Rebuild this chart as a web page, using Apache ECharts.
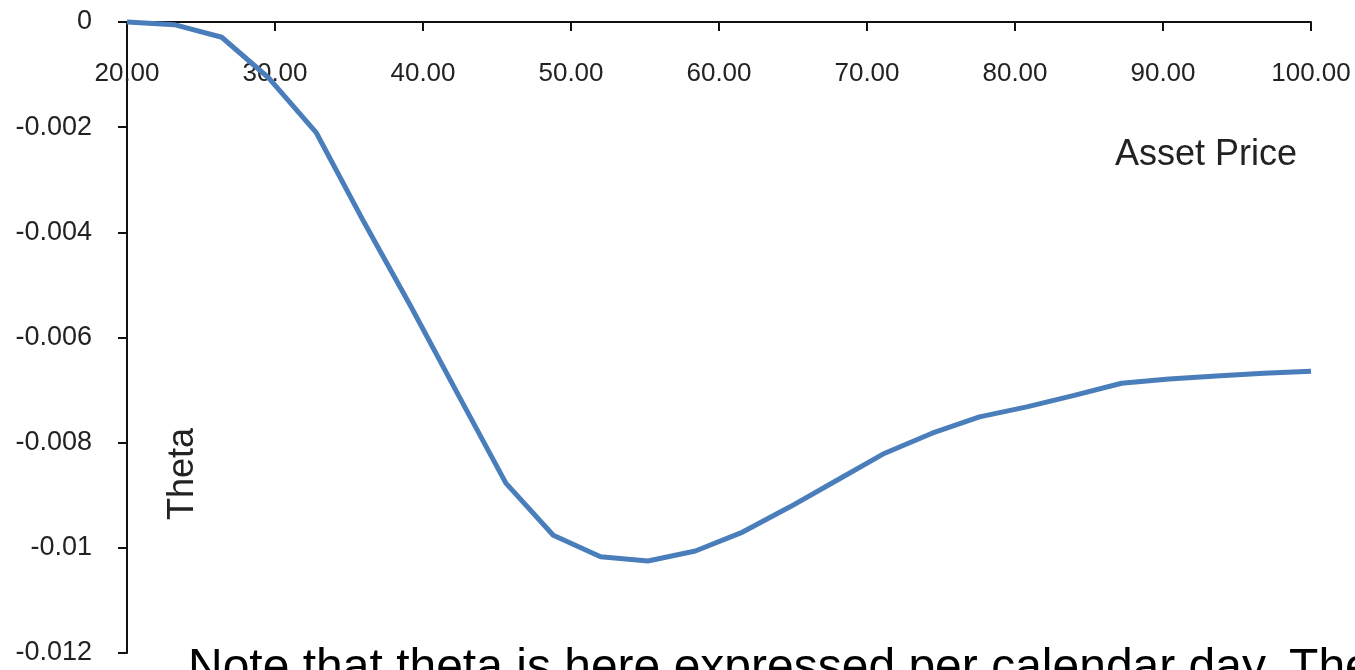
<!DOCTYPE html>
<html>
<head>
<meta charset="utf-8">
<script src="https://cdn.jsdelivr.net/npm/echarts@6/dist/echarts.min.js"></script>
<style>
  html, body { margin: 0; padding: 0; background: #fff; }
  #chart { width: 1355px; height: 670px; }
</style>
</head>
<body>
<div id="chart"></div>
<script>
// Asset price (x) and theta per calendar day (y)
const assetPrice = [20, 23.2, 26.4, 29.6, 32.8, 36, 39.2, 42.4, 45.6, 48.8, 52, 55.2, 58.4,
  61.6, 64.8, 68, 71.2, 74.4, 77.6, 80.8, 84, 87.2, 90.4, 93.6, 96.8, 100];
const theta = [0, -0.00005, -0.00029, -0.00107, -0.00211, -0.0038, -0.00542, -0.0071, -0.00877,
  -0.00976, -0.01017, -0.01025, -0.01006, -0.0097, -0.00922, -0.00871, -0.0082, -0.00782,
  -0.00751, -0.00732, -0.0071, -0.00687, -0.00679, -0.00673, -0.00668, -0.00664];
const xTickValues = [20, 30, 40, 50, 60, 70, 80, 90, 100];
const xTickLabels = ['20.00', '30.00', '40.00', '50.00', '60.00', '70.00', '80.00', '90.00', '100.00'];
const yTickValues = [0, -0.002, -0.004, -0.006, -0.008, -0.01, -0.012];
const yTickLabels = ['0', '-0.002', '-0.004', '-0.006', '-0.008', '-0.01', '-0.012'];
const xAxisTitle = 'Asset Price';
const yAxisTitle = 'Theta';
const noteText = 'Note that theta is here expressed per calendar day. The';

function lookup(values, labels, v) {
  for (let i = 0; i < values.length; i++) {
    if (Math.abs(values[i] - v) < 1e-9) return labels[i];
  }
  return '';
}

const FONT = "'Liberation Sans', Arial, sans-serif";
const chart = echarts.init(document.getElementById('chart'), null, { renderer: 'canvas' });
chart.setOption({
  animation: false,
  backgroundColor: '#ffffff',
  grid: { left: 127, right: 44, top: 22, bottom: 17, containLabel: false },
  xAxis: {
    type: 'value',
    position: 'top',
    min: 20, max: 100, interval: 10,
    axisLine: { show: true, onZero: false, lineStyle: { color: '#111', width: 2 } },
    axisTick: { show: true, inside: true, length: 9, lineStyle: { color: '#111', width: 2 } },
    splitLine: { show: false },
    axisLabel: {
      inside: true, margin: 39,
      color: '#222', fontFamily: FONT, fontSize: 26,
      formatter: v => lookup(xTickValues, xTickLabels, v)
    }
  },
  yAxis: {
    type: 'value',
    min: -0.012, max: 0, interval: 0.002,
    axisLine: { show: true, onZero: false, lineStyle: { color: '#111', width: 2 } },
    axisTick: { show: true, inside: false, length: 9, lineStyle: { color: '#111', width: 2 } },
    splitLine: { show: false },
    axisLabel: {
      margin: 35,
      color: '#222', fontFamily: FONT, fontSize: 27,
      formatter: v => lookup(yTickValues, yTickLabels, v)
    }
  },
  series: [{
    type: 'line',
    data: assetPrice.map((x, i) => [x, theta[i]]),
    showSymbol: false,
    clip: false,
    lineStyle: { color: '#4a7ebb', width: 5 },
    z: 3
  }],
  graphic: [
    {
      type: 'text', left: 1115, top: 137,
      style: { text: xAxisTitle, fill: '#222', font: "36px 'Liberation Sans', Arial, sans-serif" }
    },
    {
      type: 'text', x: 183, y: 474, rotation: Math.PI / 2,
      style: { text: yAxisTitle, fill: '#222', font: "36px 'Liberation Sans', Arial, sans-serif",
        textAlign: 'center', textVerticalAlign: 'middle' }
    },
    {
      type: 'text', left: 188, top: 645,
      style: { text: noteText, fill: '#000', font: "48px 'Liberation Sans', Arial, sans-serif" }
    }
  ]
});
</script>
</body>
</html>
